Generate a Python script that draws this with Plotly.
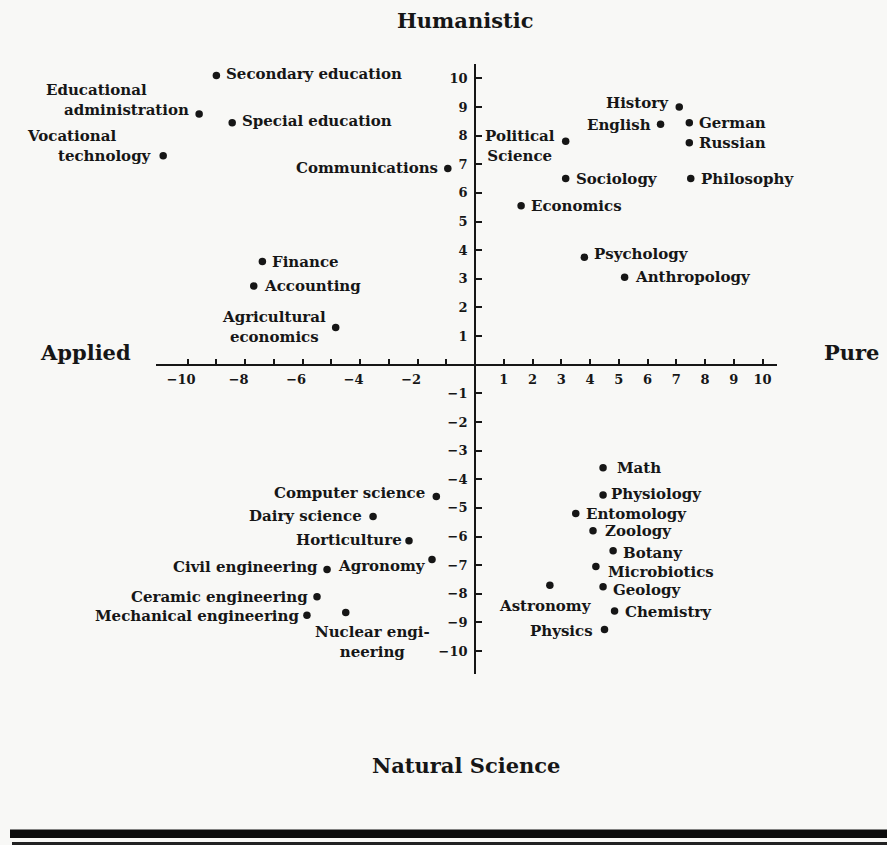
import plotly.graph_objects as go

# ---------------- data ----------------
disciplines = [
    "Secondary education", "Educational<br>\u2003\u2009administration", "Special education",
    "Vocational<br>\u2003\u2003technology", "Communications", "Finance", "Accounting",
    "Agricultural<br>economics",
    "History", "English", "German", "Russian", "Political<br>Science", "Sociology",
    "Philosophy", "Economics", "Psychology", "Anthropology",
    "Computer science", "Dairy science", "Horticulture", "Agronomy",
    "Civil engineering", "Ceramic engineering", "Mechanical engineering",
    "Nuclear engi-<br>neering",
    "Math", "Physiology", "Entomology", "Zoology", "Botany", "Microbiotics",
    "Geology", "Chemistry", "Physics", "Astronomy",
]
pure_applied = [
    -9.0, -9.6, -8.45, -10.85, -0.95, -7.4, -7.7, -4.85,
    7.1, 6.45, 7.45, 7.45, 3.15, 3.15, 7.5, 1.6, 3.8, 5.2,
    -1.35, -3.55, -2.3, -1.5, -5.15, -5.5, -5.85, -4.5,
    4.45, 4.45, 3.5, 4.1, 4.8, 4.2, 4.45, 4.85, 4.5, 2.6,
]
humanistic_science = [
    10.1, 8.75, 8.45, 7.3, 6.85, 3.6, 2.75, 1.3,
    9.0, 8.4, 8.45, 7.75, 7.8, 6.5, 6.5, 5.55, 3.75, 3.05,
    -4.6, -5.3, -6.15, -6.8, -7.15, -8.1, -8.75, -8.65,
    -3.6, -4.55, -5.2, -5.8, -6.5, -7.05, -7.75, -8.6, -9.25, -7.7,
]
x_tick_values = [-10, -9, -8, -7, -6, -5, -4, -3, -2, -1, 1, 2, 3, 4, 5, 6, 7, 8, 9, 10]
x_tick_labels = ["\u221210\u2003", "", "\u22128\u2003", "", "\u22126\u2003", "", "\u22124\u2003", "",
                 "\u22122\u2003", "", "1", "2", "3", "4", "5", "6", "7", "8", "9", "10"]
y_tick_values = [10, 9, 8, 7, 6, 5, 4, 3, 2, 1, -1, -2, -3, -4, -5, -6, -7, -8, -9, -10]
y_tick_labels = ["10", "9", "8", "7", "6", "5", "4", "3", "2", "1",
                 "\u22121", "\u22122", "\u22123", "\u22124", "\u22125", "\u22126",
                 "\u22127", "\u22128", "\u22129", "\u221210"]
pole_titles = ["Humanistic", "Applied", "Pure", "Natural Science"]

# ---------------- style / label placement (xanchor, yanchor, xshift, yshift, align) ----------------
R = ("left", "middle", 8, 0, "left")
label_style = [
    ("left", "middle", 8, 1, "left"),        # Secondary education
    ("right", "middle", -8, 14, "left"),     # Educational administration
    ("left", "middle", 8, 2, "left"),        # Special education
    ("right", "middle", -9, 10, "left"),     # Vocational technology
    ("right", "middle", -8, 1, "left"),      # Communications
    R, R,                                    # Finance, Accounting
    ("right", "middle", -8, 0, "center"),    # Agricultural economics
    ("right", "middle", -8, 4, "left"),      # History
    ("right", "middle", -8, -1, "left"),     # English
    R, R,                                    # German, Russian
    ("right", "middle", -9, -5, "center"),   # Political Science
    R, R, R,                                 # Sociology, Philosophy, Economics
    ("left", "middle", 8, 3, "left"),        # Psychology
    R,                                       # Anthropology
    ("right", "middle", -9, 3, "left"),      # Computer science
    ("right", "middle", -9, 0, "left"),      # Dairy science
    ("right", "middle", -5, 1, "left"),      # Horticulture
    ("right", "middle", -4, -7, "left"),     # Agronomy
    ("right", "middle", -7, 2, "left"),      # Civil engineering
    ("right", "middle", -7, 0, "left"),      # Ceramic engineering
    ("right", "middle", -6, -1, "left"),     # Mechanical engineering
    ("center", "top", 27, -9, "center"),     # Nuclear engineering
    ("left", "middle", 12, 0, "left"),       # Math
    ("left", "middle", 6, 1, "left"),        # Physiology
    ("left", "middle", 8, 0, "left"),        # Entomology
    ("left", "middle", 10, 0, "left"),       # Zoology
    ("left", "middle", 8, -2, "left"),       # Botany
    ("left", "middle", 10, -5, "left"),      # Microbiotics
    ("left", "middle", 8, -3, "left"),       # Geology
    ("left", "middle", 8, -1, "left"),       # Chemistry
    ("right", "middle", -10, -1, "left"),    # Physics
    ("center", "top", -4, -10, "center"),    # Astronomy
]

INK = "#161616"
FONT = "DejaVu Serif"
W, H = 887, 845
ML, MR, MT, MB = 156, 110, 64, 171
PW, PH = W - ML - MR, H - MT - MB
XR = [-11.1, 10.5]
YR = [-10.8, 10.5]


def px_x(p):
    return (p - ML) / PW


def px_y(p):
    return (H - MB - p) / PH


fig = go.Figure()
fig.add_trace(go.Scatter(
    x=pure_applied, y=humanistic_science, mode="markers",
    marker=dict(size=7.5, color=INK, line=dict(width=0)),
    hoverinfo="skip", showlegend=False, cliponaxis=False,
))

annotations = []
for name, xv, yv, st in zip(disciplines, pure_applied, humanistic_science, label_style):
    xa, ya, xs, ys, al = st
    annotations.append(dict(
        x=xv, y=yv, xref="x", yref="y", text=name, showarrow=False,
        xanchor=xa, yanchor=ya, xshift=xs, yshift=ys, align=al,
        font=dict(family=FONT, size=15, color=INK, weight="bold"),
    ))

title_pos = [(465, 20), (85, 352), (851, 352), (466, 766)]
for t, (px, py) in zip(pole_titles, title_pos):
    annotations.append(dict(
        x=px_x(px), y=px_y(py), xref="paper", yref="paper", text=t, showarrow=False,
        xanchor="center", yanchor="middle",
        font=dict(family=FONT, size=21, color=INK, weight="bold"),
    ))

shapes = [
    dict(type="rect", xref="paper", yref="paper", x0=px_x(10), x1=px_x(887),
         y0=px_y(838), y1=px_y(829.5), fillcolor="#0c0c0c", line=dict(width=0), layer="above"),
    dict(type="rect", xref="paper", yref="paper", x0=px_x(12), x1=px_x(887),
         y0=px_y(845), y1=px_y(842), fillcolor="#222222", line=dict(width=0), layer="above"),
]

fig.update_layout(
    width=W, height=H,
    margin=dict(l=ML, r=MR, t=MT, b=MB, pad=0),
    paper_bgcolor="#f8f8f6", plot_bgcolor="rgba(0,0,0,0)",
    font=dict(family=FONT, size=13, color=INK),
    annotations=annotations, shapes=shapes,
    xaxis=dict(
        range=XR, showgrid=False, zeroline=False, showline=True, linecolor=INK, linewidth=2,
        anchor="free", position=(0 - YR[0]) / (YR[1] - YR[0]),
        tickmode="array", tickvals=x_tick_values, ticktext=x_tick_labels,
        ticks="inside", ticklen=5, tickwidth=1.5, tickcolor=INK, ticklabelstandoff=3,
        tickfont=dict(family=FONT, size=13, color=INK, weight="bold"),
        fixedrange=True,
    ),
    yaxis=dict(
        range=YR, showgrid=False, zeroline=False, showline=True, linecolor=INK, linewidth=2,
        anchor="free", position=(0 - XR[0]) / (XR[1] - XR[0]),
        tickmode="array", tickvals=y_tick_values, ticktext=y_tick_labels,
        ticks="inside", ticklen=6, tickwidth=1.5, tickcolor=INK, ticklabelstandoff=4,
        tickfont=dict(family=FONT, size=13, color=INK, weight="bold"),
        fixedrange=True,
    ),
)

fig.write_html("out.html", config={"displayModeBar": False},
               post_script="document.body.style.margin='0px';")
